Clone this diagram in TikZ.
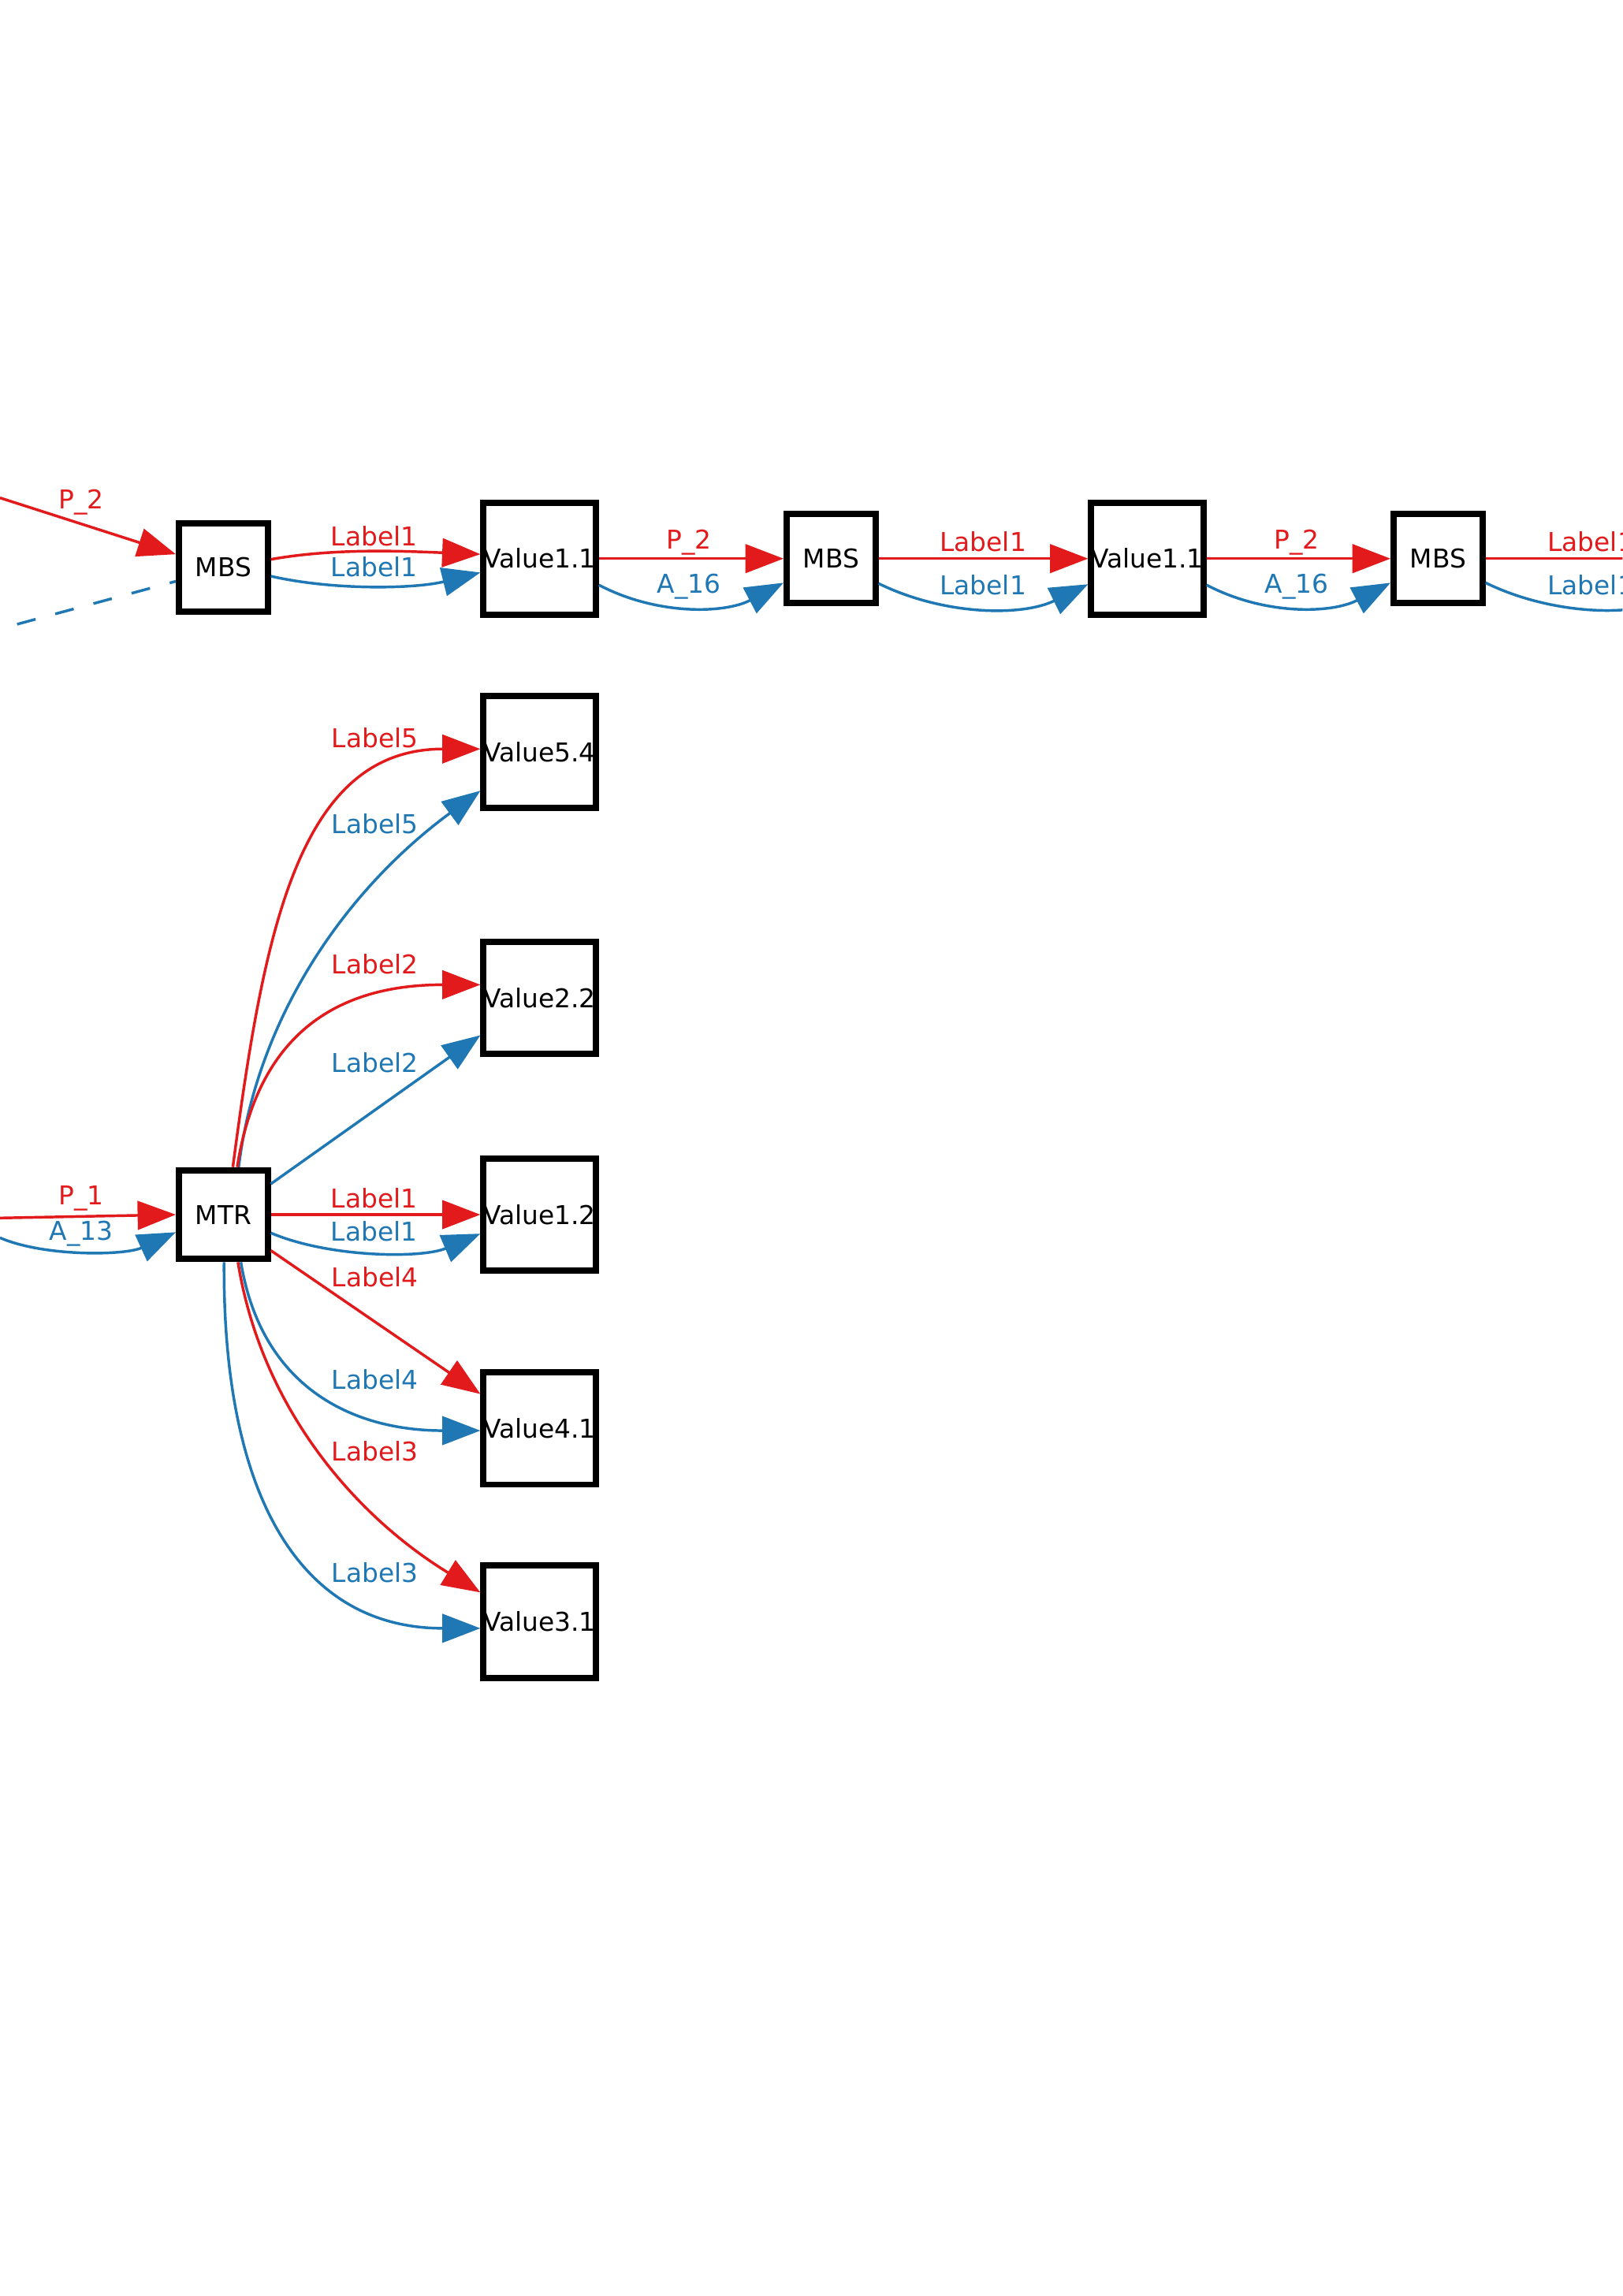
\documentclass[tikz,border=0pt]{standalone}
\usepackage{fontspec}
\setmainfont{DejaVu Sans}
\usetikzlibrary{arrows.meta,calc}
\definecolor{edgered}{RGB}{227,26,28}
\definecolor{edgeblue}{RGB}{31,120,180}
\begin{document}
\begin{tikzpicture}[x=0.5374pt,y=-0.5374pt,
  font=\fontsize{9.5}{11}\selectfont,
  box/.style={draw=black,line width=2.3pt,fill=white,inner sep=0pt,minimum size=32.6pt},
  valbox/.style={box,minimum size=41.2pt},
  conn/.style={line width=1pt,-{Triangle[length=14pt,width=10.5pt]}},
  pedge/.style={conn,draw=edgered},
  aedge/.style={conn,draw=edgeblue},
  plabel/.style={text=edgered,inner sep=1pt},
  alabel/.style={text=edgeblue,inner sep=1pt}]

\useasboundingbox (0,0) rectangle (1108,1568);
\fill[white] (0,0) rectangle (1108,1568);
\clip (0,0) rectangle (1108,1568);

% ---- nodes ----
\node[box]    (mbsA) at (152.5,387.5) {MBS};
\node[valbox] (valA) at (368.5,381.5) {Value1.1};
\node[box]    (mbsB) at (567.5,381.5) {MBS};
\node[valbox] (valB) at (783.5,381.5) {Value1.1};
\node[box]    (mbsC) at (982,381.5)   {MBS};

\node[box]    (mtr) at (152.5,829.5) {MTR};
\node[valbox] (v54) at (368.5,513.5)  {Value5.4};
\node[valbox] (v22) at (368.5,681.5)  {Value2.2};
\node[valbox] (v12) at (368.5,829.5)  {Value1.2};
\node[valbox] (v41) at (368.5,975.5)  {Value4.1};
\node[valbox] (v31) at (368.5,1107.5) {Value3.1};

% loose ends entering and leaving the sheet
\coordinate (srcP)  at (0,340);
\coordinate (srcA)  at (11.7,426.3);
\coordinate (srcM)  at (0,831.8);
\coordinate (srcMa) at (0,845.3);
\coordinate (nextR) at (1159.5,381.5);

% ---- upper chain ----
\draw[pedge] (srcP) -- ($(mbsA.west)+(0,-9)$);
\node[plabel] (lP2a) at (55.6,343) {P\_2};
\draw[edgeblue,line width=1pt,dash pattern=on 7pt off 7.5pt] (srcA) -- ($(mbsA.west)+(0,9.5)$);

\draw[pedge] ($(mbsA.east)+(0,-5.5)$) .. controls +(45,-8) and +(-50,-2) .. ($(valA.west)+(0,-3)$);
\draw[aedge] ($(mbsA.east)+(0,6)$) .. controls +(44,10) and +(-44,11) .. ($(valA.west)+(0,9.5)$);
\node[plabel] (lA1r) at (255.5,366) {Label1};
\node[alabel] (lA1b) at (255.5,387) {Label1};

\draw[pedge] (valA.east) -- (mbsB.west);
\draw[aedge] ($(valA.east)+(0,18)$) .. controls +(40,21) and +(-40,21) .. ($(mbsB.west)+(0,16.5)$);
\node[plabel] (lP2b) at (470.5,370.4) {P\_2};
\node[alabel] (lA16a) at (470.5,400.5) {A\_16};

\draw[pedge] (mbsB.east) -- (valB.west);
\draw[aedge] ($(mbsB.east)+(0,17)$) .. controls +(45,22) and +(-45,22) .. ($(valB.west)+(0,17.5)$);
\node[plabel] (lB1r) at (671.3,370) {Label1};
\node[alabel] (lB1b) at (671.3,399.5) {Label1};

\draw[pedge] (valB.east) -- (mbsC.west);
\draw[aedge] ($(valB.east)+(0,18)$) .. controls +(40,21) and +(-40,21) .. ($(mbsC.west)+(0,16.5)$);
\node[plabel] (lP2c) at (885.5,370.4) {P\_2};
\node[alabel] (lA16b) at (885.5,400.5) {A\_16};

\draw[pedge] (mbsC.east) -- (nextR);
\draw[aedge] ($(mbsC.east)+(0,16.5)$) .. controls +(45,22) and +(-45,22) .. ($(nextR)+(0,17.5)$);
\node[plabel] (lC1r) at (1086.3,370) {Label1};
\node[alabel] (lC1b) at (1086.3,399.5) {Label1};

% ---- MTR fan ----
\draw[pedge] (srcM) -- (mtr.west);
\draw[aedge] (srcMa) .. controls +(30,13) and +(-35,16) .. ($(mtr.west)+(0,12)$);
\node[plabel] (lP1) at (55.6,818.4) {P\_1};
\node[alabel] (lA13) at (55.6,842.6) {A\_13};

\draw[pedge] ($(mtr.north)+(6.5,0)$) .. controls +(21,-159) and +(-125,0) .. ($(v54.west)+(0,-2)$);
\draw[aedge] ($(mtr.north)+(10.5,0)$) .. controls +(12,-99) and +(-95,70) .. ($(v54.west)+(0,26.5)$);
\node[plabel] (l5r) at (256,504) {Label5};
\node[alabel] (l5b) at (256,562.6) {Label5};

\draw[pedge] ($(mtr.north)+(9.5,0)$) .. controls +(13,-84) and +(-105,0) .. ($(v22.west)+(0,-9)$);
\draw[aedge] ($(mtr.east)+(0,-21)$) -- ($(v22.west)+(0,25.5)$);
\node[plabel] (l2r) at (256,658.5) {Label2};
\node[alabel] (l2b) at (256,725.5) {Label2};

\draw[pedge] (mtr.east) -- (v12.west);
\draw[aedge] ($(mtr.east)+(0,12.5)$) .. controls +(40,17) and +(-40,17) .. ($(v12.west)+(0,13)$);
\node[plabel] (l1r) at (255.5,818.4) {Label1};
\node[alabel] (l1b) at (255.5,840.8) {Label1};

\draw[pedge] ($(mtr.east)+(0,24.5)$) -- ($(v41.west)+(0,-23.5)$);
\draw[aedge] ($(mtr.south)+(12,0)$) .. controls +(14,85) and +(-88,0) .. ($(v41.west)+(0,1.5)$);
\node[plabel] (l4r) at (256,872) {Label4};
\node[alabel] (l4b) at (256,942) {Label4};

\draw[pedge] ($(mtr.south)+(10,0)$) .. controls +(16,100) and +(-85,-52) .. ($(v31.west)+(0,-20)$);
\draw[aedge] ($(mtr.south)+(0.5,0)$) .. controls +(-1,165) and +(-120,0) .. ($(v31.west)+(0,4.5)$);
\node[plabel] (l3r) at (256,991) {Label3};
\node[alabel] (l3b) at (256,1074) {Label3};

\end{tikzpicture}
\end{document}
